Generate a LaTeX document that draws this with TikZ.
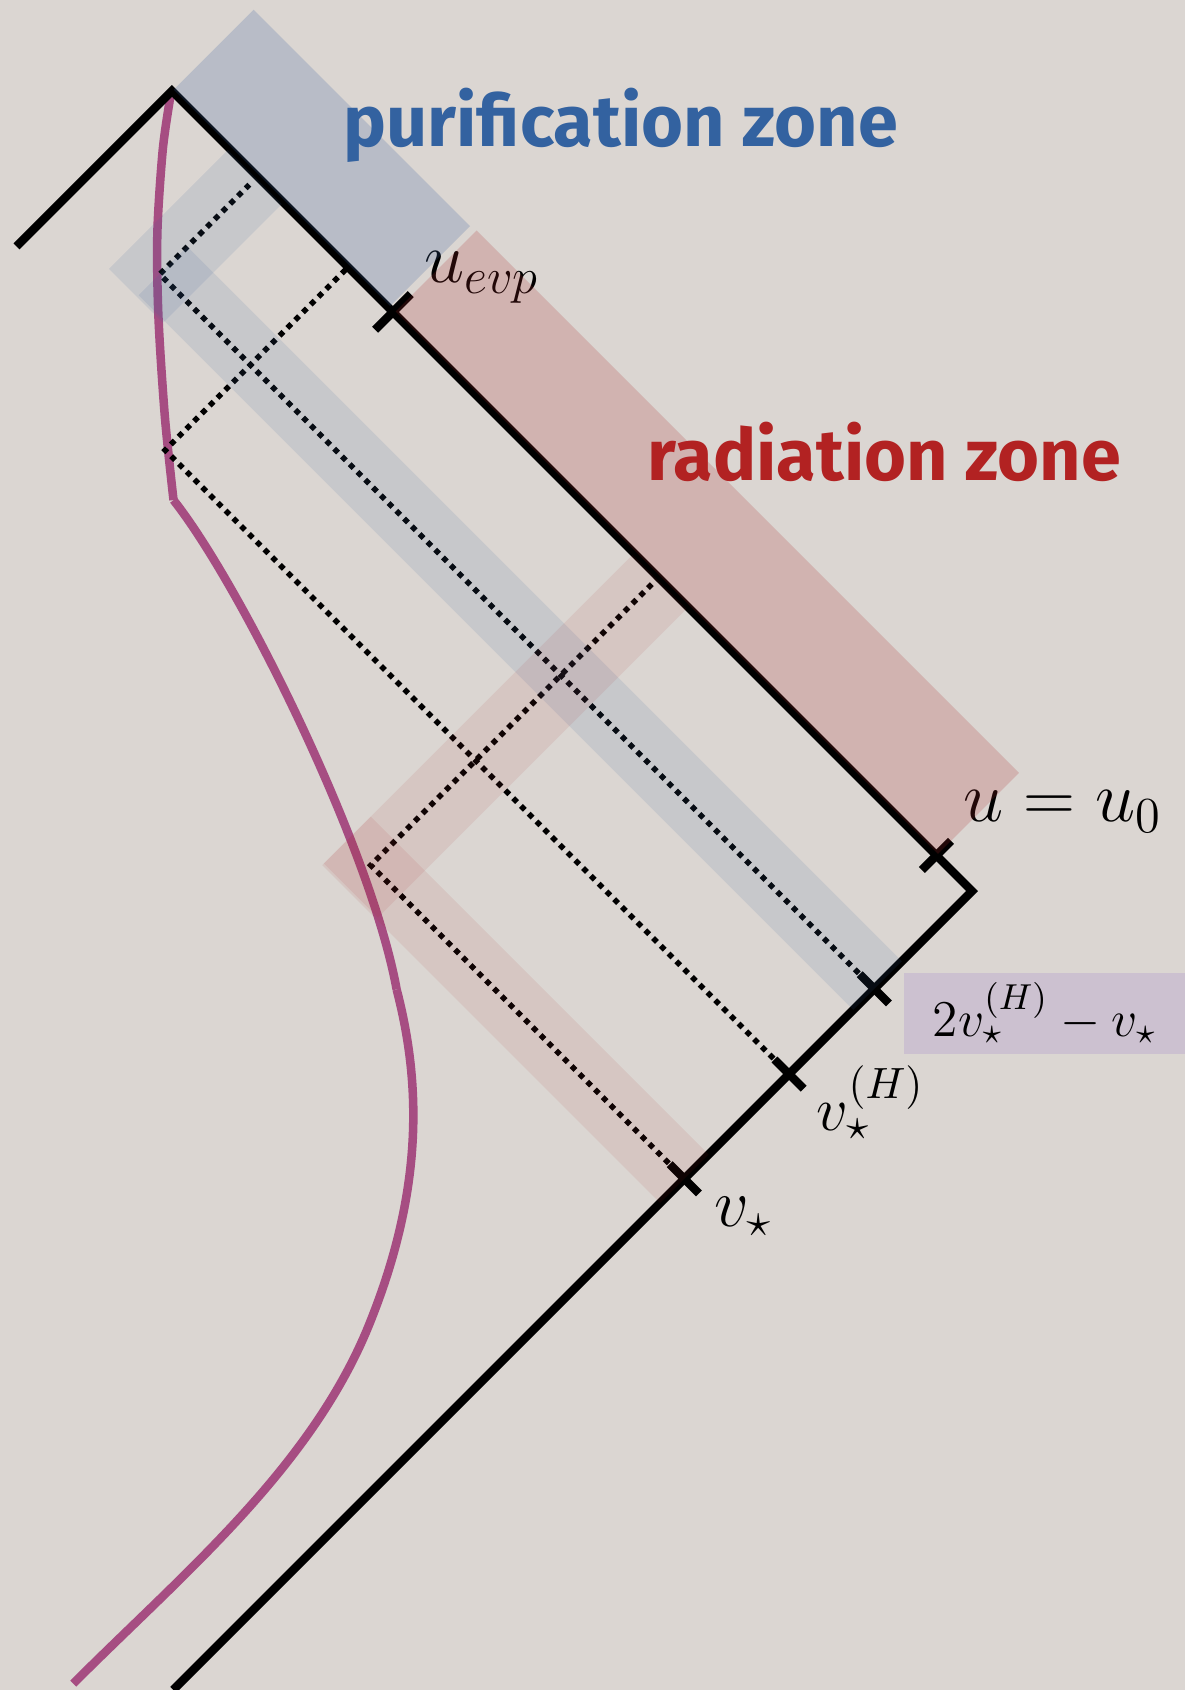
\RequirePackage{fix-cm}
\documentclass[tikz,border=0pt]{standalone}
\usepackage{amsmath}
\usepackage{fontspec}
\setsansfont{Fira Sans}
\usepackage{xcolor}
\definecolor{bgpaper}{RGB}{219,214,210}
\definecolor{worldline}{RGB}{166,77,130}
\definecolor{purblue}{RGB}{51,98,160}
\definecolor{radred}{RGB}{178,34,34}
\definecolor{bandblue}{RGB}{60,100,160}
\definecolor{bandred}{RGB}{170,40,40}
\definecolor{labellilac}{RGB}{204,193,208}
\usepackage{tikz}
\usetikzlibrary{calc}

\begin{document}
\begin{tikzpicture}[
  x=0.01cm, y=-0.01cm,
  horizon/.style={line width=2.2pt, black},
  ray/.style={line width=1.45pt, dash pattern=on 1.45pt off 1.45pt},
  traj/.style={line width=2.25pt, worldline},
  zonetext/.style={font=\sffamily\bfseries\fontsize{19}{22}\selectfont, inner sep=0pt, anchor=base west},
  mathlbl/.style={font=\fontsize{19}{22}\selectfont, inner sep=0pt, anchor=base west},
  lightcone/.style={x={(0.005cm,0.005cm)}, y={(0.005cm,-0.005cm)}}
]

% --- Canvas ---
\fill[bgpaper] (0,0) rectangle (1099,1568);
\useasboundingbox (0,0) rectangle (1099,1568);

% --- Trajectory (three pieces) ---
\draw[traj] plot[smooth] coordinates {(158,90) (151,139) (146,216) (147,294) (153,387) (161,464)};
\draw[traj] (161,464) .. controls (225,545) and (345,790) .. (368,918);
\draw[traj] (368,918) .. controls (392,1010) and (392,1110) .. (340,1235)
  .. controls (285,1365) and (170,1460) .. (68,1562);

% everything below in null coordinates (x-y, x+y)
\begin{scope}[lightcone]

% --- Horizons ---
\coordinate (top) at (75,243.5);
\coordinate (left) at (-213,243.5);
\coordinate (corner) at (75,1726);
\coordinate (bottom) at (-1405,1726);
\draw[horizon] (left) -- (top) -- (corner) -- (bottom);

% --- Ticks ---
\coordinate (uevp) at (75,653);
\coordinate (uzero) at (75,1660);
\coordinate (vrefl) at (-106,1726);
\coordinate (vhor) at (-264,1726);
\coordinate (vstar) at (-458,1726);
\draw[horizon] ($(uevp)+(-33,0)$) -- ($(uevp)+(33,0)$);
\draw[horizon] ($(uzero)+(-27,0)$) -- ($(uzero)+(27,0)$);
\foreach \t in {vrefl, vhor, vstar}
  \draw[horizon] ($(\t)+(0,-27)$) -- ($(\t)+(0,27)$);

% --- Light rays (dotted) ---
\coordinate (bounce1) at (-106,402);
\coordinate (bounce2) at (-264,570);
\coordinate (bounce3) at (-458,1145);
\coordinate (hit1) at (60,402);
\coordinate (hit2) at (75,570);
\coordinate (hit3) at (73,1145);
\draw[ray] (vrefl) -- (bounce1) -- (hit1);
\draw[ray] (vhor) -- (bounce2) -- (hit2);
\draw[ray] (vstar) -- (bounce3) -- (hit3);
\end{scope}

% --- Labels ---
\node[mathlbl] (luevp) at (393,262) {$u_{evp}$};
\node[mathlbl] (luzero) at (893,762) {$u = u_0$};
\node[mathlbl, font=\fontsize{16.5}{20}\selectfont] (lvhor) at (757,1049) {$v_\star^{(H)}$};
\node[mathlbl, font=\fontsize{18}{21}\selectfont] (lvstar) at (662,1138) {$v_\star$};
\node[fill=labellilac, inner sep=0pt, minimum width=2.61cm, minimum height=0.75cm, anchor=west,
      font=\fontsize{13.6}{16}\selectfont] (lvrefl) at (838,940) {$2v_\star^{(H)} - v_\star$};

% --- Zones (translucent) ---
\begin{scope}[lightcone]
\fill[bandblue, opacity=0.22] (78,244) -- (226,244) -- (226,645) -- (78,645) -- cycle;
\fill[bandred, opacity=0.2] (78,655) -- (228,655) -- (228,1660) -- (78,1660) -- cycle;
\fill[bandblue, opacity=0.12] (-148,350) -- (72,350) -- (72,450) -- (-148,450) -- cycle;
\fill[bandblue, opacity=0.12] (-145,402) -- (-55,402) -- (-55,1726) -- (-145,1726) -- cycle;
\fill[bandred, opacity=0.09] (-500,1100) -- (72,1100) -- (72,1200) -- (-500,1200) -- cycle;
\fill[bandred, opacity=0.09] (-503,1100) -- (-413,1100) -- (-413,1726) -- (-503,1726) -- cycle;
\end{scope}

\node[zonetext, purblue] (purif) at (318,136) {purification zone};
\node[zonetext, radred] (rad) at (600,446) {radiation zone};

\end{tikzpicture}
\end{document}
